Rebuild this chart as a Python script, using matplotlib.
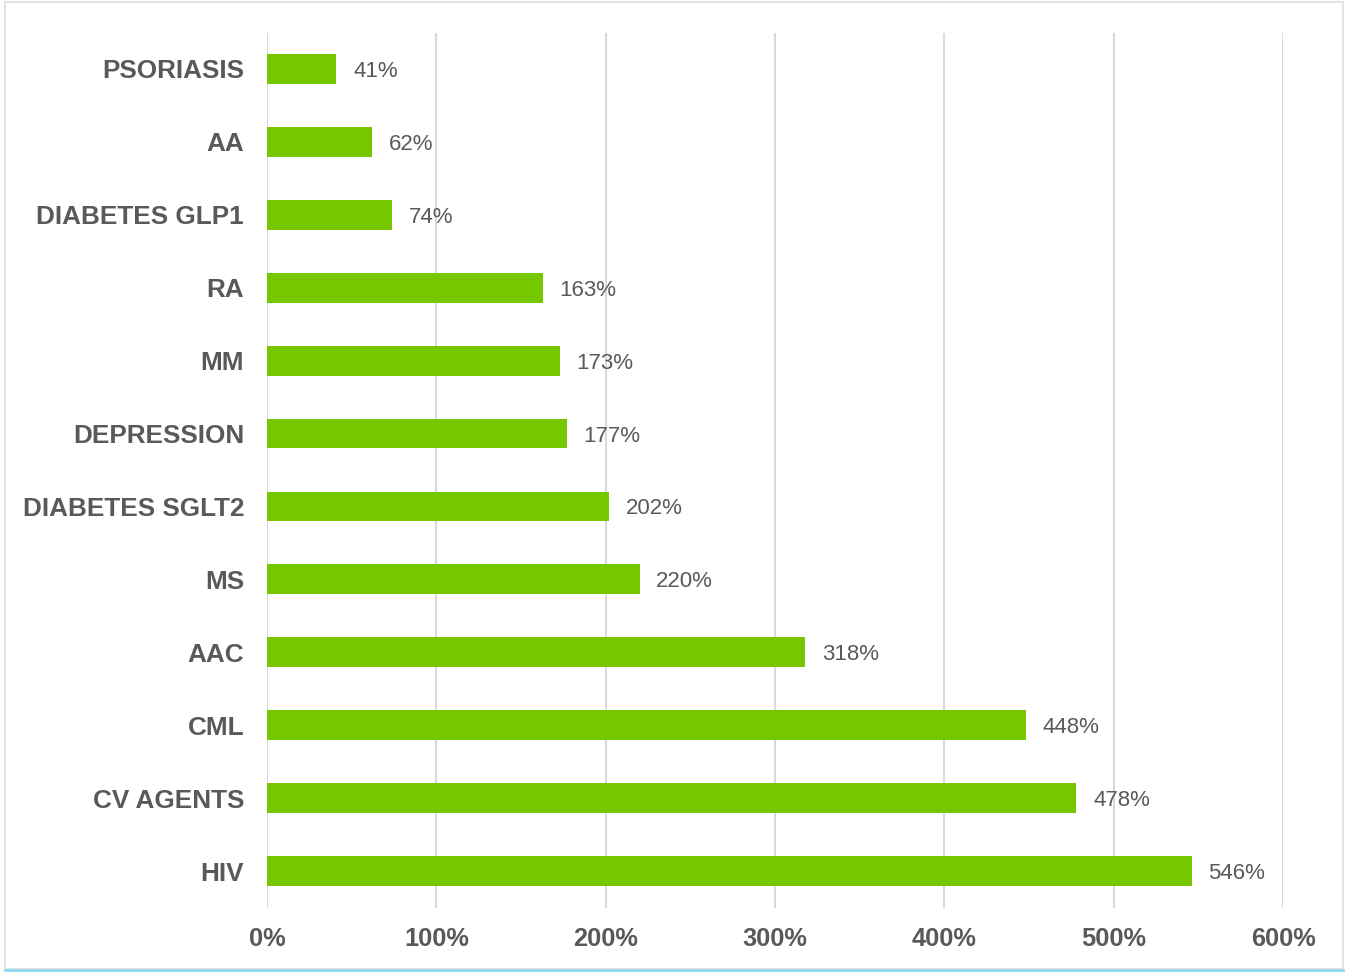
import numpy as np
import matplotlib.pyplot as plt
from matplotlib.patches import Rectangle
from matplotlib.lines import Line2D

# categories listed bottom to top
categories = ['HIV', 'CV AGENTS', 'CML', 'AAC', 'MS', 'DIABETES SGLT2',
              'DEPRESSION', 'MM', 'RA', 'DIABETES GLP1', 'AA', 'PSORIASIS']
values = [546, 478, 448, 318, 220, 202, 177, 173, 163, 74, 62, 41]
xticks = [0, 100, 200, 300, 400, 500, 600]

plt.rcParams['font.family'] = ['Liberation Sans', 'DejaVu Sans']

fig = plt.figure(figsize=(13.45, 9.73), dpi=100)
ax = fig.add_axes([267/1345, 1 - 907.5/973, (1283 - 267)/1345, (907.5 - 32.5)/973])

y = np.arange(len(categories))
ax.barh(y, values, height=0.41, color='#76C700', zorder=3)

for yi, v in zip(y, values):
    ax.annotate('{}%'.format(v), (v, yi), xytext=(12, 0), textcoords='offset points',
                va='center_baseline', ha='left', fontsize=16, color='#595959')

ax.set_xlim(0, 600)
ax.set_ylim(-0.5, len(categories) - 0.5)
ax.set_xticks(xticks)
ax.set_xticklabels(['{}%'.format(t) for t in xticks], fontsize=18.3, fontweight='bold', color='#595959')
ax.set_yticks(y)
ax.set_yticklabels(categories, fontsize=18.8, fontweight='bold', color='#595959')
ax.tick_params(axis='x', length=0, pad=14)
ax.tick_params(axis='y', length=0, pad=16.5)
ax.grid(axis='x', color='#d9d9d9', linewidth=1.5, zorder=0)
for s in ax.spines.values():
    s.set_visible(False)

# outer frame like the screenshot
fig.patches.append(Rectangle((5/1345, 1 - 969/973), 1338/1345, 967/973, transform=fig.transFigure,
                             fill=False, edgecolor='#e3e3e3', linewidth=1.5))
fig.lines.append(Line2D([5/1345, 1343/1345], [1 - 970/973, 1 - 970/973], transform=fig.transFigure,
                        color='#8fd8f2', linewidth=2))

fig.savefig('out.png', dpi=100)
